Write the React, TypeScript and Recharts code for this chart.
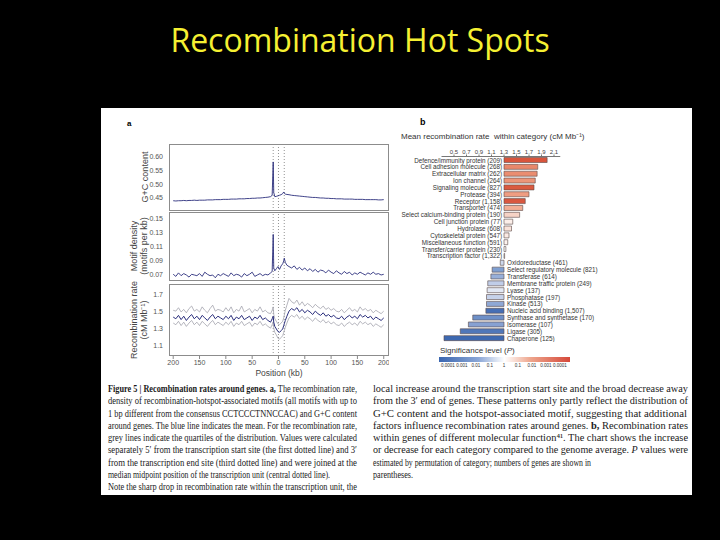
import { LineChart, Line, XAxis, YAxis, ReferenceLine, BarChart, Bar, Cell, LabelList } from 'recharts'

// panel a: position around genes (kb); left of 0 is 5', right is 3'
const positions = [
  -200, -195, -190, -185, -180, -175, -170, -165, -160, -155,
  -150, -145, -140, -135, -130, -125, -120, -115, -110, -105,
  -100, -95, -90, -85, -80, -75, -70, -65, -60, -55,
  -50, -45, -40, -35, -30, -25, -20, -15,
  -12, -10, -9, -7, -4, -1, 2, 5, 8, 10, 11, 13,
  16, 20, 25, 30, 35, 40, 45, 50, 55, 60,
  65, 70, 75, 80, 85, 90, 95, 100, 105, 110,
  115, 120, 125, 130, 135, 140, 145, 150, 155, 160,
  165, 170, 175, 180, 185, 190, 195, 200,
]

const gcContent = [
  0.440, 0.439, 0.440, 0.440, 0.441, 0.440, 0.441, 0.441, 0.442, 0.441,
  0.442, 0.442, 0.442, 0.443, 0.443, 0.443, 0.444, 0.444, 0.444, 0.445,
  0.445, 0.445, 0.446, 0.446, 0.446, 0.447, 0.447, 0.447, 0.448, 0.448,
  0.449, 0.449, 0.450, 0.450, 0.451, 0.452, 0.453, 0.455,
  0.460, 0.582, 0.470, 0.455, 0.456, 0.458, 0.460, 0.462, 0.466, 0.472, 0.468, 0.464,
  0.463, 0.462, 0.460, 0.459, 0.458, 0.457, 0.456, 0.455, 0.454, 0.453,
  0.452, 0.452, 0.451, 0.450, 0.450, 0.449, 0.449, 0.448, 0.448, 0.447,
  0.447, 0.447, 0.446, 0.446, 0.446, 0.446, 0.445, 0.445, 0.445, 0.445,
  0.444, 0.444, 0.444, 0.444, 0.444, 0.443, 0.443, 0.444,
]

const motifDensity = [
  0.071, 0.068, 0.073, 0.069, 0.072, 0.070, 0.067, 0.071, 0.070, 0.069,
  0.072, 0.068, 0.074, 0.071, 0.069, 0.070, 0.066, 0.071, 0.069, 0.072,
  0.070, 0.068, 0.073, 0.069, 0.071, 0.070, 0.067, 0.072, 0.069, 0.071,
  0.074, 0.068, 0.070, 0.072, 0.069, 0.071, 0.070, 0.073,
  0.075, 0.128, 0.080, 0.076, 0.079, 0.082, 0.078, 0.083, 0.086, 0.090, 0.094, 0.088,
  0.084, 0.082, 0.080, 0.083, 0.078, 0.081, 0.077, 0.080, 0.076, 0.079,
  0.075, 0.078, 0.074, 0.077, 0.076, 0.073, 0.077, 0.074, 0.072, 0.076,
  0.073, 0.071, 0.075, 0.072, 0.074, 0.070, 0.073, 0.071, 0.074, 0.072,
  0.070, 0.073, 0.071, 0.074, 0.071, 0.072, 0.070, 0.071,
]

const recombMean = [
  1.44, 1.42, 1.46, 1.41, 1.45, 1.40, 1.44, 1.47, 1.42, 1.45,
  1.41, 1.46, 1.43, 1.40, 1.44, 1.47, 1.42, 1.45, 1.43, 1.41,
  1.45, 1.42, 1.46, 1.40, 1.44, 1.42, 1.46, 1.41, 1.43, 1.45,
  1.40, 1.44, 1.42, 1.46, 1.41, 1.43, 1.40, 1.38,
  1.42, 1.45, 1.38, 1.33, 1.30, 1.27, 1.26, 1.28, 1.30, 1.34, 1.36, 1.40,
  1.45, 1.51, 1.54, 1.52, 1.55, 1.50, 1.53, 1.49, 1.52, 1.50,
  1.47, 1.51, 1.48, 1.46, 1.49, 1.45, 1.47, 1.44, 1.46, 1.43,
  1.42, 1.45, 1.41, 1.44, 1.46, 1.43, 1.45, 1.42, 1.47, 1.44,
  1.46, 1.43, 1.45, 1.41, 1.44, 1.42, 1.40, 1.43,
]

const recombUpper = [
  1.52, 1.51, 1.55, 1.50, 1.53, 1.49, 1.54, 1.57, 1.51, 1.53,
  1.50, 1.56, 1.52, 1.49, 1.54, 1.58, 1.51, 1.53, 1.52, 1.50,
  1.55, 1.51, 1.56, 1.49, 1.53, 1.51, 1.57, 1.50, 1.52, 1.54,
  1.49, 1.53, 1.51, 1.56, 1.50, 1.52, 1.49, 1.48,
  1.52, 1.56, 1.47, 1.42, 1.39, 1.36, 1.35, 1.37, 1.39, 1.43, 1.46, 1.52,
  1.58, 1.66, 1.62, 1.60, 1.64, 1.58, 1.62, 1.57, 1.60, 1.58,
  1.55, 1.59, 1.56, 1.54, 1.57, 1.53, 1.55, 1.52, 1.54, 1.51,
  1.50, 1.53, 1.49, 1.52, 1.55, 1.51, 1.53, 1.50, 1.56, 1.52,
  1.54, 1.51, 1.53, 1.49, 1.52, 1.50, 1.48, 1.51,
]

const recombLower = [
  1.37, 1.35, 1.39, 1.34, 1.38, 1.33, 1.37, 1.40, 1.35, 1.38,
  1.34, 1.39, 1.36, 1.33, 1.37, 1.40, 1.35, 1.38, 1.36, 1.34,
  1.38, 1.35, 1.39, 1.33, 1.37, 1.35, 1.39, 1.34, 1.36, 1.38,
  1.33, 1.37, 1.35, 1.39, 1.34, 1.36, 1.33, 1.31,
  1.35, 1.38, 1.31, 1.26, 1.23, 1.19, 1.18, 1.20, 1.22, 1.26, 1.28, 1.32,
  1.37, 1.43, 1.46, 1.44, 1.47, 1.42, 1.45, 1.41, 1.44, 1.42,
  1.39, 1.43, 1.40, 1.38, 1.41, 1.37, 1.39, 1.36, 1.38, 1.35,
  1.34, 1.37, 1.33, 1.36, 1.38, 1.35, 1.37, 1.34, 1.39, 1.36,
  1.38, 1.35, 1.37, 1.33, 1.36, 1.34, 1.32, 1.35,
]

const xTicks = [-200, -150, -100, -50, 0, 50, 100, 150, 200]
const geneMarks = [-10, 0, 11]
const gcTicks = [0.45, 0.5, 0.55, 0.6]
const motifTicks = [0.07, 0.09, 0.11, 0.13, 0.15]
const recombTicks = [1.1, 1.3, 1.5, 1.7]

// panel b: molecular function categories
const categories = [
  'Defence/immunity protein', 'Cell adhesion molecule', 'Extracellular matrix', 'Ion channel',
  'Signaling molecule', 'Protease', 'Receptor', 'Transporter', 'Select calcium-binding protein',
  'Cell junction protein', 'Hydrolase', 'Cytoskeletal protein', 'Miscellaneous function',
  'Transfer/carrier protein', 'Transcription factor', 'Oxidoreductase', 'Select regulatory molecule',
  'Transferase', 'Membrane traffic protein', 'Lyase', 'Phosphatase', 'Kinase', 'Nucleic acid binding',
  'Synthase and synthetase', 'Isomerase', 'Ligase', 'Chaperone',
]
const geneCounts = [
  '209', '268', '262', '264', '827', '394', '1,158', '474', '190', '77', '608', '547', '591', '230',
  '1,322', '461', '821', '614', '249', '137', '197', '513', '1,507', '170', '107', '305', '125',
]
const meanRates = [
  1.99, 1.84, 1.83, 1.80, 1.78, 1.70, 1.64, 1.60, 1.55, 1.44, 1.42, 1.38, 1.36, 1.33,
  1.31, 1.24, 1.11, 1.09, 1.04, 1.03, 1.02, 1.02, 1.01, 0.80, 0.73, 0.60, 0.34,
]
const barColors = [
  '#d8553c', '#e8886b', '#ea8d70', '#ec9579', '#da5a40', '#ef9d82', '#d95840', '#f2ae95', '#f6d3c6',
  '#fcefea', '#f9e3da', '#fbebe5', '#fdf3ef', '#ffffff', '#ffffff', '#cdd8ec', '#7f9fd1', '#97afd9',
  '#c0cde8', '#e2e8f4', '#c6d2ea', '#8fa8d5', '#466fb5', '#6e90c8', '#87a1d2', '#5077b9', '#3e69b1',
]
const genomeAverage = 1.3
const rateTicks = [0.5, 0.7, 0.9, 1.1, 1.3, 1.5, 1.7, 1.9, 2.1]
const significanceLabels = ['0.0001', '0.001', '0.01', '0.1', '1', '0.1', '0.01', '0.001', '0.0001']

type Seg = [string, string]
const captionLeft: Seg[][] = [
  [['Figure 5 | Recombination rates around genes.', 'b'], [' ', ''], ['a,', 'b'], [' The recombination rate,', '']],
  [['density of recombination-hotspot-associated motifs (all motifs with up to', '']],
  [['1 bp different from the consensus CCTCCCTNNCCAC) and G+C content', '']],
  [['around genes. The blue line indicates the mean. For the recombination rate,', '']],
  [['grey lines indicate the quartiles of the distribution. Values were calculated', '']],
  [['separately 5\u2032 from the transcription start site (the first dotted line) and 3\u2032', '']],
  [['from the transcription end site (third dotted line) and were joined at the', '']],
  [['median midpoint position of the transcription unit (central dotted line).', '']],
  [['Note the sharp drop in recombination rate within the transcription unit, the', '']],
]
const captionLeftWidths = [249, 249, 249, 249, 249, 249, 249, 222, 249]
const captionRight: Seg[][] = [
  [['local increase around the transcription start site and the broad decrease away', '']],
  [['from the 3\u2032 end of genes. These patterns only partly reflect the distribution of', '']],
  [['G+C content and the hotspot-associated motif, suggesting that additional', '']],
  [['factors influence recombination rates around genes. ', ''], ['b,', 'b'], [' Recombination rates', '']],
  [['within genes of different molecular function\u2074\u00b9. The chart shows the increase', '']],
  [['or decrease for each category compared to the genome average. ', ''], ['P', 'i'], [' values were', '']],
  [['estimated by permutation of category; numbers of genes are shown in', '']],
  [['parentheses.', '']],
]
const captionRightWidths = [315, 315, 314, 315, 315, 315, 218, 40]

const profile = positions.map((x, i) => ({
  x,
  gc: gcContent[i],
  motif: motifDensity[i],
  mean: recombMean[i],
  q3: recombUpper[i],
  q1: recombLower[i],
}))

const rateRows = categories.map((c, i) => ({
  name: `${c} (${geneCounts[i]})`,
  range: meanRates[i] >= genomeAverage ? [genomeAverage, meanRates[i]] : [meanRates[i], genomeAverage],
}))

const sans = "'Liberation Sans', Arial, sans-serif"
const axisGrey = '#555'
const navy = '#2b2f7d'

function CategoryLabel(props: any) {
  const { x, y, width, height, value, index } = props
  const up = meanRates[index] >= genomeAverage
  return (
    <text
      x={up ? x - 2 : x + width + 3}
      y={y + height / 2}
      textAnchor={up ? 'end' : 'start'}
      dominantBaseline="central"
      fontSize={6.3}
      fontFamily={sans}
      fill="#333"
    >
      {value}
    </text>
  )
}

function Frame({ top, height }: { top: number; height: number }) {
  return (
    <div
      style={{
        position: 'absolute', left: 169, top, width: 220, height,
        border: '1px solid #8c8c8c', boxSizing: 'border-box', pointerEvents: 'none',
      }}
    />
  )
}

function yLabel(lines: string[], cx: number, cy: number) {
  return (
    <div
      style={{
        position: 'absolute', left: cx - 60, top: cy - 12, width: 120, height: 24,
        transform: 'rotate(-90deg)', textAlign: 'center', fontFamily: sans, fontSize: 9,
        lineHeight: '10px', color: '#444', display: 'flex', flexDirection: 'column', justifyContent: 'center',
      }}
    >
      {lines.map((l) => <div key={l}>{l}</div>)}
    </div>
  )
}

function captionText(lines: Seg[][], x: number, widths: number[]) {
  return lines.map((segs, i) => (
    <text
      key={i}
      x={x}
      y={392 + i * 12.25}
      textLength={widths[i]}
      lengthAdjust="spacingAndGlyphs"
      fontSize={9.8}
      fontFamily="'Liberation Serif', 'Times New Roman', serif"
      fill="#1a1a1a"
      style={{ whiteSpace: 'pre' }}
    >
      {segs.map(([t, s], j) => (
        <tspan key={j} fontWeight={s === 'b' ? 'bold' : undefined} fontStyle={s === 'i' ? 'italic' : undefined}>
          {t}
        </tspan>
      ))}
    </text>
  ))
}

export default function App() {
  const yTick = { fontSize: 7, fill: axisGrey, fontFamily: sans }
  const marks = geneMarks.map((m) => (
    <ReferenceLine key={m} x={m} stroke="#777" strokeDasharray="1 2" strokeWidth={0.8} />
  ))
  return (
    <div style={{ position: 'fixed', left: 0, top: 0, width: 720, height: 540, background: '#000', overflow: 'hidden' }}>
      <div
        style={{
          position: 'absolute', left: 0, top: 21, width: 720, textAlign: 'center', color: '#f5f032',
          fontFamily: "'Comic Sans MS', 'Open Sans', sans-serif", fontSize: 32, lineHeight: '38px',
        }}
      >
        Recombination Hot Spots
      </div>

      <div style={{ position: 'absolute', left: 101, top: 108, width: 591, height: 387, background: '#fff' }} />

      <div style={{ position: 'absolute', left: 127, top: 119, fontFamily: sans, fontSize: 8, fontWeight: 'bold' }}>a</div>
      <div style={{ position: 'absolute', left: 420, top: 117, fontFamily: sans, fontSize: 9, fontWeight: 'bold' }}>b</div>

      {/* panel a: G+C content */}
      <div style={{ position: 'absolute', left: 129, top: 144 }}>
        <LineChart width={260} height={67} data={profile} margin={{ top: 0, right: 0, bottom: 0, left: 0 }}>
          <XAxis dataKey="x" type="number" domain={[-208, 210]} ticks={xTicks} hide allowDataOverflow />
          <YAxis
            type="number" domain={[0.4024, 0.6476]} ticks={gcTicks} allowDataOverflow width={40}
            tickFormatter={(v: number) => v.toFixed(2)} tick={yTick} axisLine={false} tickLine={false}
            tickSize={3} tickMargin={3}
          />
          {marks}
          <Line dataKey="gc" stroke={navy} strokeWidth={0.9} dot={false} isAnimationActive={false} />
        </LineChart>
      </div>
      <Frame top={144} height={67} />

      {/* panel a: motif density */}
      <div style={{ position: 'absolute', left: 129, top: 212 }}>
        <LineChart width={260} height={69} data={profile} margin={{ top: 0, right: 0, bottom: 0, left: 0 }}>
          <XAxis dataKey="x" type="number" domain={[-208, 210]} ticks={xTicks} hide allowDataOverflow />
          <YAxis
            type="number" domain={[0.0614, 0.16]} ticks={motifTicks} allowDataOverflow width={40}
            tickFormatter={(v: number) => v.toFixed(2)} tick={yTick} axisLine={false} tickLine={false}
            tickSize={3} tickMargin={3}
          />
          {marks}
          <Line dataKey="motif" stroke={navy} strokeWidth={0.9} dot={false} isAnimationActive={false} />
        </LineChart>
      </div>
      <Frame top={212} height={69} />

      {/* panel a: recombination rate */}
      <div style={{ position: 'absolute', left: 129, top: 284 }}>
        <LineChart width={260} height={86} data={profile} margin={{ top: 0, right: 0, bottom: 0, left: 0 }}>
          <XAxis
            dataKey="x" type="number" domain={[-208, 210]} ticks={xTicks} allowDataOverflow height={14}
            interval={0} tickFormatter={(v: number) => String(Math.abs(v))} tick={{ ...yTick }} axisLine={false}
            tickSize={3} tickMargin={1} stroke="#888"
          />
          <YAxis
            type="number" domain={[0.982, 1.829]} ticks={recombTicks} allowDataOverflow width={40}
            tickFormatter={(v: number) => v.toFixed(1)} tick={yTick} axisLine={false} tickLine={false}
            tickSize={3} tickMargin={3}
          />
          {marks}
          <Line dataKey="q3" stroke="#a3a3ad" strokeWidth={0.8} dot={false} isAnimationActive={false} />
          <Line dataKey="q1" stroke="#a3a3ad" strokeWidth={0.8} dot={false} isAnimationActive={false} />
          <Line dataKey="mean" stroke={navy} strokeWidth={1} dot={false} isAnimationActive={false} />
        </LineChart>
      </div>
      <Frame top={284} height={72} />

      {yLabel(['G+C content'], 145, 177)}
      {yLabel(['Motif density', '(motifs per kb)'], 139, 246)}
      {yLabel(['Recombination rate', '(cM Mb\u207b\u00b9)'], 139, 320)}
      <div style={{ position: 'absolute', left: 219, top: 368, width: 120, textAlign: 'center', fontFamily: sans, fontSize: 8.5, color: '#444' }}>
        Position (kb)
      </div>

      {/* panel b */}
      <div style={{ position: 'absolute', left: 401, top: 130, fontFamily: sans, fontSize: 8, color: '#333', whiteSpace: 'pre' }}>
        Mean recombination rate  within category (cM Mb{'\u207b\u00b9'})
      </div>
      <div style={{ position: 'absolute', left: 400, top: 140 }}>
        <BarChart
          layout="vertical" width={285} height={201.5} data={rateRows} barSize={5}
          margin={{ top: 0, right: 124.75, bottom: 0, left: 41.5 }}
        >
          <XAxis
            type="number" orientation="top" domain={[0.3, 2.2]} ticks={rateTicks} allowDataOverflow height={16.5}
            interval={0} tickFormatter={(v: number) => v.toFixed(1)}
            tick={{ fontSize: 6, fill: '#444', fontFamily: sans }}
            tickSize={2} tickMargin={1} stroke="#777"
          />
          <YAxis type="category" dataKey="name" hide />
          <Bar dataKey="range" stroke="#5a4a48" strokeWidth={0.6} isAnimationActive={false}>
            {rateRows.map((r, i) => <Cell key={r.name} fill={barColors[i]} />)}
            <LabelList dataKey="name" content={CategoryLabel} />
          </Bar>
        </BarChart>
      </div>

      <div style={{ position: 'absolute', left: 440, top: 346, fontFamily: sans, fontSize: 8, color: '#333' }}>
        Significance level (<i>P</i>)
      </div>
      <div
        style={{
          position: 'absolute', left: 439, top: 357, width: 131, height: 5,
          background: 'linear-gradient(to right, #3a66b0, #8aa6d6 30%, #ffffff 50%, #eea58c 70%, #d5493a)',
        }}
      />
      {significanceLabels.map((l, i) => (
        <div
          key={i}
          style={{
            position: 'absolute', left: 448 + i * 14 - 10, top: 363, width: 20, textAlign: 'center',
            fontFamily: sans, fontSize: 4.5, color: '#333',
          }}
        >
          {l}
        </div>
      ))}

      <svg width={720} height={540} style={{ position: 'absolute', left: 0, top: 0, pointerEvents: 'none' }}>
        {captionText(captionLeft, 108, captionLeftWidths)}
        {captionText(captionRight, 373, captionRightWidths)}
      </svg>
    </div>
  )
}
